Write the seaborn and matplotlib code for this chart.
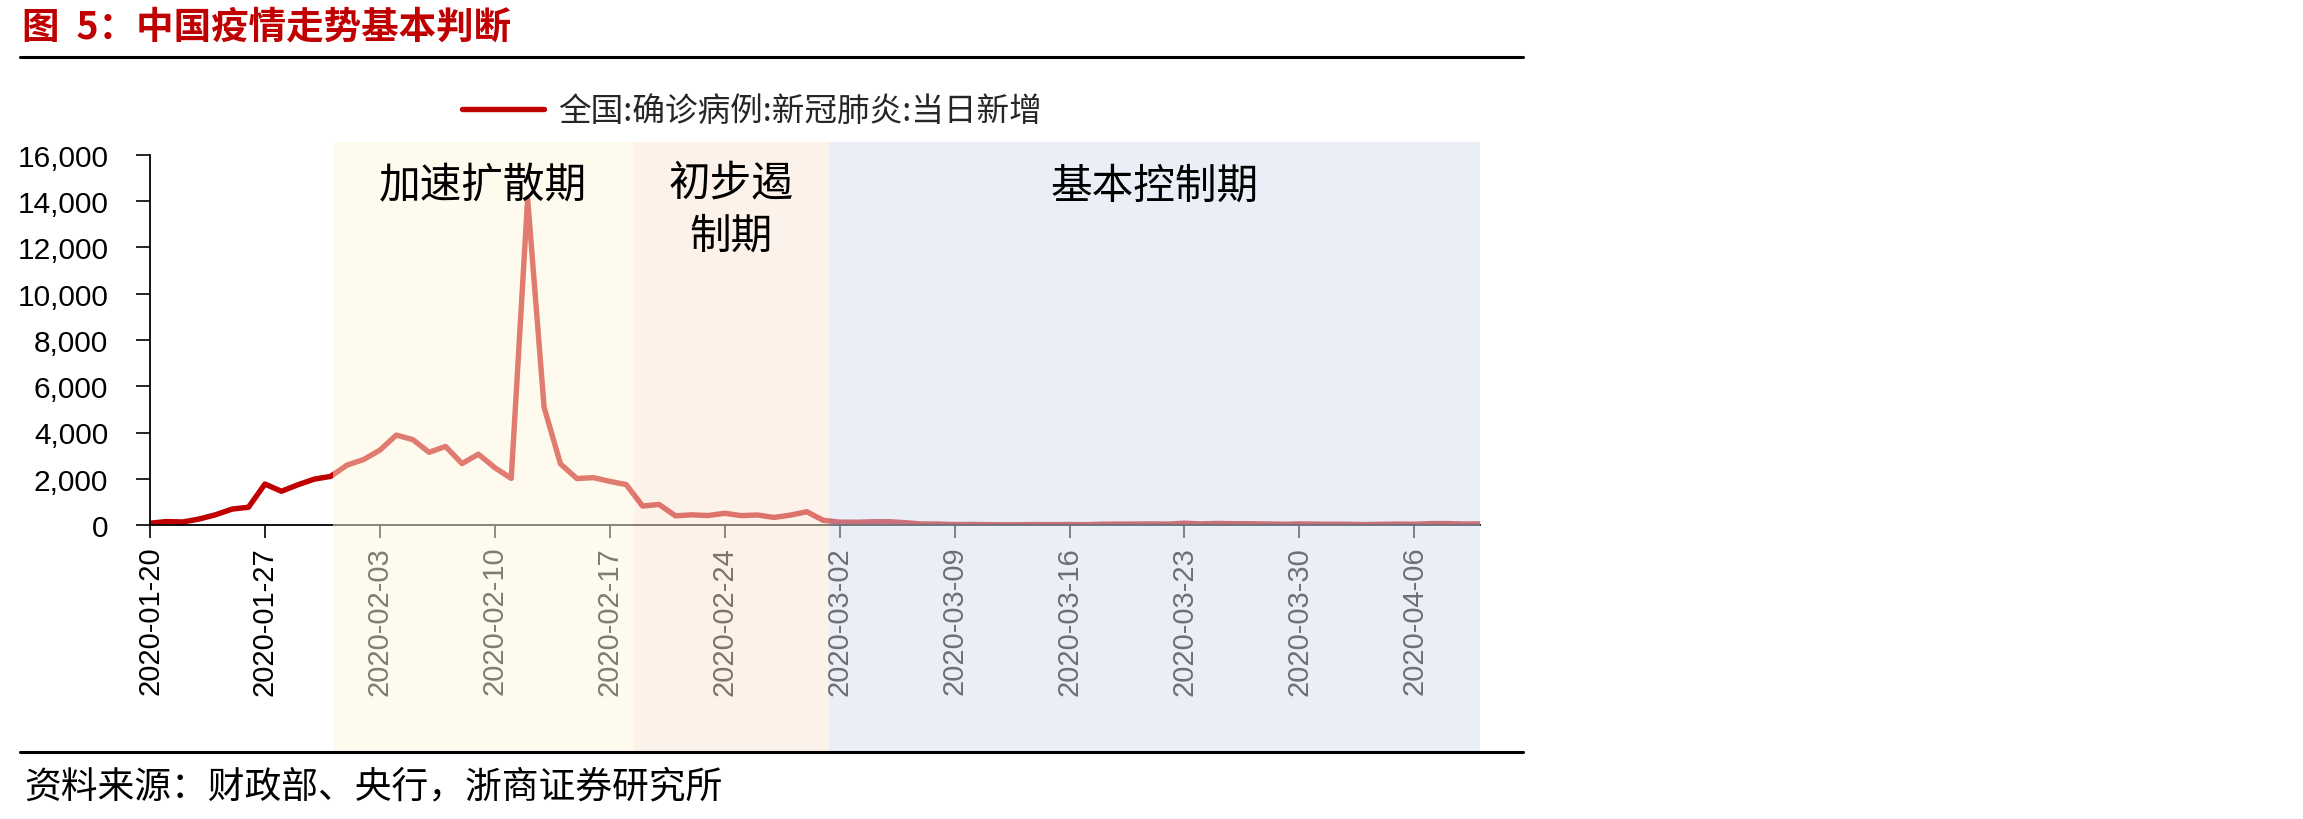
import matplotlib
matplotlib.use("Agg")
import matplotlib.pyplot as plt
from matplotlib.lines import Line2D
import pandas as pd
import seaborn as sns

# daily new confirmed cases, China, 2020-01-20 .. 2020-04-10
start_date = "2020-01-20"
end_date = "2020-04-10"
new_cases = [
    77, 149, 131, 259, 444, 688, 769, 1771, 1459, 1737, 1982, 2102,
    2590, 2829, 3235, 3887, 3694, 3143, 3399, 2656, 3062, 2478, 2015, 14108,
    5090, 2641, 2009, 2048, 1886, 1749, 820, 889, 397, 440, 409, 508, 406,
    433, 327, 427, 573,
    202, 125, 119, 139, 143, 99, 44, 40, 19, 24, 15, 8, 11, 20, 16, 21, 13,
    34, 39, 41, 46, 39, 78, 47, 67, 55, 54, 45, 31, 48, 36,
    35, 31, 19, 30, 39, 32, 62, 63, 42, 46,
]
series_name = "全国:确诊病例:新冠肺炎:当日新增"

tick_dates = ["2020-01-20", "2020-01-27", "2020-02-03", "2020-02-10", "2020-02-17",
              "2020-02-24", "2020-03-02", "2020-03-09", "2020-03-16", "2020-03-23",
              "2020-03-30", "2020-04-06"]
y_ticks = [0, 2000, 4000, 6000, 8000, 10000, 12000, 14000, 16000]

phase_names = ["加速扩散期", "初步遏\n制期", "基本控制期"]
phase_starts = ["2020-01-31 03:00", "2020-02-18 11:00", "2020-03-01 08:00"]
phase_ends = ["2020-02-18 11:00", "2020-03-01 08:00", "2020-04-10 00:00"]
phase_colors = ["#FFF7DF", "#FBE7D5", "#D7E1F1"]

title = "图  5：中国疫情走势基本判断"
source = "资料来源：财政部、央行，浙商证券研究所"

df = pd.DataFrame({"date": pd.date_range(start_date, end_date), "cases": new_cases})

sns.set_theme(style="ticks")
cjk = ["Noto Sans CJK SC", "DejaVu Sans"]
plt.rcParams["font.family"] = cjk

fig = plt.figure(figsize=(23.03, 8.2), dpi=100)
W, H = 2303, 820
ax = fig.add_axes([150 / W, 1 - 526 / H, 1330 / W, 370 / H])

sns.lineplot(data=df, x="date", y="cases", color="#C00000", linewidth=3.9,
             ax=ax, label=series_name, zorder=2)
for ln in ax.get_lines():
    ln.set_solid_joinstyle("round")
    ln.set_solid_capstyle("round")
handles, labels = ax.get_legend_handles_labels()
if ax.get_legend() is not None:
    ax.get_legend().remove()

ax.set_xlim(pd.Timestamp(start_date), pd.Timestamp(end_date))
ax.set_ylim(0, 16000)
ax.set_xlabel("")
ax.set_ylabel("")

ax.set_yticks(y_ticks)
ax.set_yticklabels([f"{v:,}" for v in y_ticks], fontsize=21.5,
                   family=["Liberation Sans"], color="black")
ax.set_xticks(pd.to_datetime(tick_dates))
ax.set_xticklabels(tick_dates, rotation=90, fontsize=21,
                   family=["Liberation Sans"], color="black")
ax.tick_params(axis="y", length=10, width=1.2, pad=20, color="black")
ax.tick_params(axis="x", length=9, width=1.2, pad=6, color="black")

sns.despine(ax=ax)
for side in ["left", "bottom"]:
    ax.spines[side].set_color("black")
    ax.spines[side].set_linewidth(1.3)
ax.patch.set_alpha(0)

# translucent phase boxes drawn over the line and the tick labels
for name, s, e, c in zip(phase_names, phase_starts, phase_ends, phase_colors):
    ax.axvspan(pd.Timestamp(s), pd.Timestamp(e), ymin=-0.611, ymax=1.035,
               color=c, alpha=0.5, lw=0, clip_on=False, zorder=3)
    mid = pd.Timestamp(s) + (pd.Timestamp(e) - pd.Timestamp(s)) / 2
    ypos = 0.851 if "\n" in name else 0.916
    ax.text(mid, ypos, name, transform=ax.get_xaxis_transform(), ha="center",
            va="center", fontsize=30, linespacing=1.35, color="black", zorder=4)

fig.legend(handles, labels, loc="center left", bbox_to_anchor=(462 / W, 1 - 112 / H),
           frameon=False, fontsize=23.5, handlelength=2.5, handletextpad=0.45,
           borderpad=0, borderaxespad=0)

fig.text(22 / W, 1 - 27 / H, title, fontsize=27, fontweight="bold", color="#C00000",
         ha="left", va="center")
fig.text(24 / W, 1 - 787 / H, source, fontsize=26.5, color="black", ha="left", va="center")

fig.add_artist(Line2D([20 / W, 1523 / W], [1 - 58 / H, 1 - 58 / H], color="black", lw=2.2))
fig.add_artist(Line2D([20 / W, 1523 / W], [1 - 753 / H, 1 - 753 / H], color="black", lw=2.2))

fig.savefig("out.png", dpi=100)
